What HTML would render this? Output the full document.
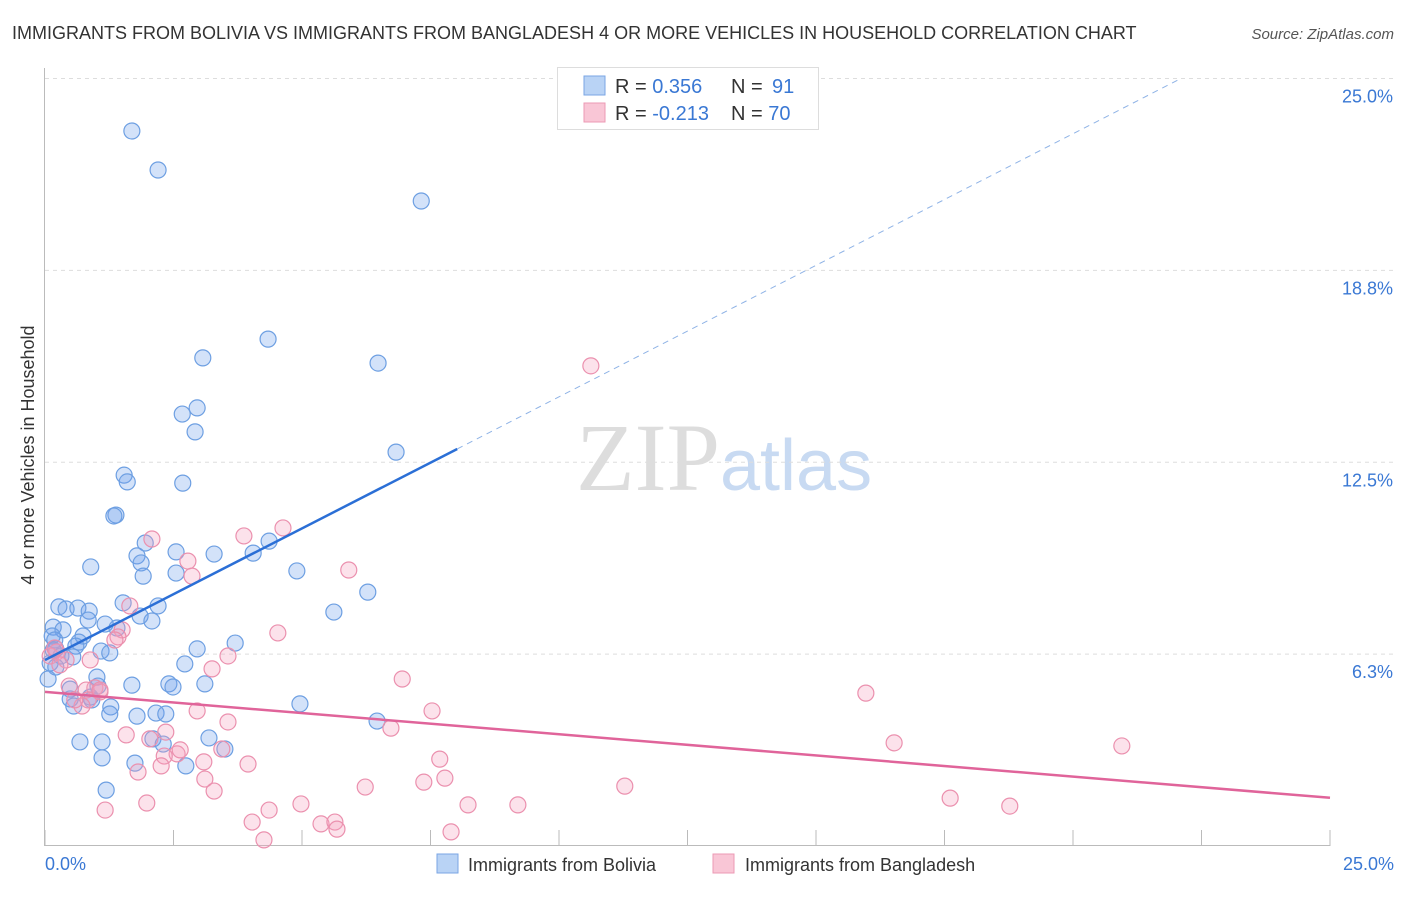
<!DOCTYPE html>
<html><head><meta charset="utf-8"><style>
body{margin:0;background:#fff;font-family:"Liberation Sans",sans-serif;}
</style></head><body>
<svg id="c" width="1406" height="892" xmlns="http://www.w3.org/2000/svg">
<text x="12" y="39" font-size="18" fill="#333">IMMIGRANTS FROM BOLIVIA VS IMMIGRANTS FROM BANGLADESH 4 OR MORE VEHICLES IN HOUSEHOLD CORRELATION CHART</text>
<text x="1394" y="39" font-size="15" fill="#555" text-anchor="end" font-style="italic">Source: ZipAtlas.com</text>
<text x="720" y="490" font-size="96" fill="#ddd" text-anchor="end" font-family="Liberation Serif">ZIP</text>
<text x="720" y="490" font-size="72" fill="#c8daf2">atlas</text>
<g id="grid"></g><g id="pts"></g><g id="lines"></g>
<text transform="translate(34,455) rotate(-90)" font-size="18" fill="#333" text-anchor="middle">4 or more Vehicles in Household</text>
<text x="45" y="870" font-size="18" fill="#3a78d4">0.0%</text>
<text x="1394" y="870" font-size="18" fill="#3a78d4" text-anchor="end">25.0%</text>
<g>
<rect x="557.5" y="67.5" width="261" height="62" fill="#fff" stroke="#ddd"/>
<rect x="584" y="76" width="21" height="19" fill="#b9d3f5" stroke="#7aa6e4"/>
<rect x="584" y="103" width="21" height="19" fill="#f9c6d6" stroke="#ec9ab4"/>
<text x="615" y="93" font-size="20" fill="#333">R = <tspan fill="#3a78d4">0.356</tspan><tspan x="731">N = </tspan><tspan fill="#3a78d4" x="772">91</tspan></text>
<text x="615" y="120" font-size="20" fill="#333">R = <tspan fill="#3a78d4">-0.213</tspan><tspan x="731">N = </tspan><tspan fill="#3a78d4">70</tspan></text>
</g>
<g>
<rect x="437" y="854" width="21" height="19" fill="#b9d3f5" stroke="#7aa6e4"/>
<text x="468" y="871" font-size="18" fill="#333">Immigrants from Bolivia</text>
<rect x="713" y="854" width="21" height="19" fill="#f9c6d6" stroke="#ec9ab4"/>
<text x="745" y="871" font-size="18" fill="#333">Immigrants from Bangladesh</text>
</g>
</svg>
<script>
const yTicks=[6.25,12.5,18.75,25];
const yTickLabels=["6.3%","12.5%","18.8%","25.0%"];
const xTicks=[0,2.5,5,7.5,10,12.5,15,17.5,20,22.5,25];
const boliviaX=[1.69,2.20,7.32,4.34,3.07,6.48,2.67,2.96,2.92,6.83,1.54,1.60,2.68,1.38,1.34,4.36,1.95,2.55,3.29,4.05,1.79,1.87,0.89,1.91,2.55,4.90,6.28,5.62,1.52,2.20,0.27,0.41,0.64,0.86,0.84,1.85,2.08,1.17,0.16,0.35,1.40,0.14,0.74,0.19,0.66,3.70,2.96,0.60,1.09,1.26,0.21,0.31,0.54,0.10,2.72,0.21,0.06,1.01,2.41,1.69,2.49,3.11,0.49,1.03,0.88,0.49,0.56,4.96,1.28,1.26,1.79,2.16,2.35,6.46,2.10,3.19,0.68,1.11,2.30,3.50,1.11,1.75,2.74,1.19,0.16,0.91];
const boliviaY=[23.29,22.02,21.01,16.51,15.90,15.73,14.07,14.27,13.49,12.83,12.08,11.86,11.82,10.78,10.75,9.93,9.87,9.58,9.51,9.54,9.45,9.22,9.09,8.79,8.89,8.96,8.27,7.62,7.92,7.82,7.79,7.72,7.75,7.65,7.36,7.49,7.33,7.23,7.13,7.04,7.10,6.84,6.84,6.71,6.64,6.61,6.42,6.51,6.35,6.29,6.42,6.19,6.16,5.96,5.93,5.83,5.44,5.50,5.28,5.24,5.18,5.28,5.11,5.21,4.85,4.79,4.56,4.63,4.53,4.30,4.23,4.33,4.30,4.07,3.49,3.52,3.39,3.39,3.32,3.16,2.87,2.70,2.61,1.82,6.38,4.76];
const bangX=[10.62,4.63,3.87,2.08,2.78,5.91,2.86,1.65,1.50,4.53,1.42,3.56,0.23,0.10,0.41,3.25,6.95,0.47,0.97,0.80,1.07,15.97,0.84,2.96,7.53,3.56,0.72,6.73,1.58,2.35,2.04,16.52,20.95,3.44,7.68,2.57,2.32,3.09,3.95,1.81,2.26,7.78,3.11,7.37,6.23,3.29,11.28,17.61,18.77,8.23,9.20,4.98,1.98,4.36,1.17,5.37,4.03,5.64,5.68,7.90,4.26,0.29,1.07,1.36,2.63,0.19,0.58,0.88];
const bangY=[15.64,10.36,10.10,10.00,9.28,8.99,8.79,7.82,7.04,6.94,6.81,6.19,6.32,6.19,6.06,5.77,5.44,5.21,5.15,5.08,5.02,4.98,4.76,4.40,4.40,4.04,4.56,3.84,3.62,3.71,3.49,3.36,3.26,3.16,2.83,3.00,2.93,2.74,2.67,2.41,2.61,2.21,2.18,2.08,1.92,1.79,1.95,1.56,1.30,1.34,1.34,1.37,1.40,1.17,1.17,0.72,0.78,0.78,0.55,0.46,0.20,5.90,5.08,6.71,3.13,6.45,4.76,6.06];
const boliviaFit=[6.06,0.857];
const bangFit=[5.02,-0.138];
const NS="http://www.w3.org/2000/svg";
const X=v=>45+v*51.4, Y=v=>846-v*30.7;
function mk(t,a,p){const e=document.createElementNS(NS,t);for(const k in a)e.setAttribute(k,a[k]);p.appendChild(e);return e;}
const grid=document.getElementById('grid');
yTicks.forEach((t,i)=>{
 const l=mk('line',{x1:45,x2:1394,y1:Y(t),y2:Y(t),stroke:'#ddd','stroke-dasharray':'4,4'},grid);
 
 
 const tx=mk('text',{x:1393,y:Y(t)+24,'font-size':18,fill:'#3a78d4','text-anchor':'end'},grid);
 tx.textContent=yTickLabels[i];
 
 
});
const ax=mk('line',{x1:45,x2:1330,y1:845.5,y2:845.5,stroke:'#bbb'},grid);


const ay=mk('line',{x1:44.5,x2:44.5,y1:68,y2:846,stroke:'#bbb'},grid);


xTicks.forEach(t=>{const e=mk('line',{x1:X(t),x2:X(t),y1:830,y2:846,stroke:'#bbb'},grid);
 
 });
const pts=document.getElementById('pts');
boliviaX.forEach((x,i)=>{const c=mk('circle',{cx:X(x),cy:Y(boliviaY[i]),r:8,fill:'rgba(110,160,235,0.3)',stroke:'#6d9fe2','stroke-width':1.2},pts);
 
 });
bangX.forEach((x,i)=>{const c=mk('circle',{cx:X(x),cy:Y(bangY[i]),r:8,fill:'rgba(245,160,190,0.3)',stroke:'#eb90ae','stroke-width':1.2},pts);
 
 });
const ln=document.getElementById('lines');
const f=(fit,x)=>fit[0]+fit[1]*x;
const b1=mk('line',{x1:X(0),y1:Y(f(boliviaFit,0)),x2:X(8.02),y2:Y(f(boliviaFit,8.02)),stroke:'#2b6fd6','stroke-width':2.5},ln);


const xe=(25-boliviaFit[0])/boliviaFit[1];
const b2=mk('line',{x1:X(8.02),y1:Y(f(boliviaFit,8.02)),x2:X(xe),y2:Y(25),stroke:'#8fb3e6','stroke-width':1,'stroke-dasharray':'6,5'},ln);


const p1=mk('line',{x1:X(0),y1:Y(f(bangFit,0)),x2:X(25),y2:Y(f(bangFit,25)),stroke:'#e0649a','stroke-width':2.5},ln);


</script>
</body></html>
